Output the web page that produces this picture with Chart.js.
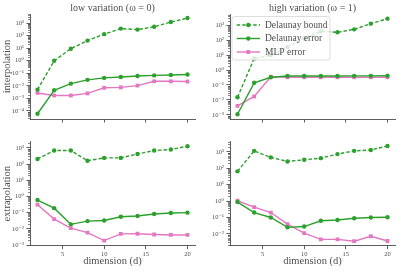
<!DOCTYPE html>
<html>
<head>
<meta charset="utf-8">
<script src="https://cdn.jsdelivr.net/npm/chart.js@4/dist/chart.umd.min.js"></script>
<style>
  html, body { margin: 0; padding: 0; background: #fff; }
  body { width: 399px; height: 271px; position: relative; overflow: hidden; }
  .panel { position: absolute; }
</style>
</head>
<body>
<div class="panel" style="left:0;top:0"><canvas id="tl" width="200" height="130"></canvas></div>
<div class="panel" style="left:200px;top:0"><canvas id="tr" width="199" height="130"></canvas></div>
<div class="panel" style="left:0;top:130px"><canvas id="bl" width="200" height="141"></canvas></div>
<div class="panel" style="left:200px;top:130px"><canvas id="br" width="199" height="141"></canvas></div>
<script>
// dimension d
const dims = [2, 4, 6, 8, 10, 12, 14, 16, 18, 20]
const xTicks = [5, 10, 15, 20]

// low variation (omega = 0), interpolation
const lowInterpBound = [0.005, 1.0, 9, 40, 130, 360, 300, 500, 1200, 2500]
const lowInterpDelaunay = [6e-5, 0.0044, 0.015, 0.03, 0.043, 0.05, 0.06, 0.068, 0.072, 0.08]
const lowInterpMlp = [0.0027, 0.0017, 0.0017, 0.0025, 0.007, 0.0076, 0.0105, 0.023, 0.023, 0.022]

// high variation (omega = 1), interpolation
const highInterpBound = [0.015, 6, 10, 36, 130, 400, 340, 540, 1300, 2800]
const highInterpDelaunay = [0.0011, 0.14, 0.33, 0.4, 0.4, 0.4, 0.4, 0.41, 0.41, 0.42]
const highInterpMlp = [0.004, 0.017, 0.36, 0.33, 0.33, 0.33, 0.33, 0.33, 0.33, 0.33]

// low variation, extrapolation
const lowExtrapBound = [205, 680, 680, 160, 240, 240, 420, 680, 790, 1260]
const lowExtrapDelaunay = [0.6, 0.19, 0.019, 0.03, 0.033, 0.056, 0.062, 0.083, 0.095, 0.1]
const lowExtrapMlp = [0.31, 0.04, 0.011, 0.0059, 0.0019, 0.0049, 0.005, 0.0045, 0.0042, 0.0042]

// high variation, extrapolation
const highExtrapBound = [65, 1150, 460, 260, 330, 415, 730, 1150, 1300, 2300]
const highExtrapDelaunay = [0.87, 0.2, 0.1, 0.025, 0.028, 0.063, 0.07, 0.09, 0.1, 0.103]
const highExtrapMlp = [1.05, 0.43, 0.2, 0.039, 0.011, 0.0046, 0.0046, 0.0036, 0.0072, 0.0037]

const seriesLabels = ['Delaunay bound', 'Delaunay error', 'MLP error']

const GREEN = '#2ca02c'
const PINK = '#e377c2'
const INK = '#333'
const TEXT = '#4d4d4d'
const FONT = "'Liberation Serif', 'DejaVu Serif', serif"

const SUP = { '-': '⁻', '0': '⁰', '1': '¹', '2': '²', '3': '³', '4': '⁴', '5': '⁵' }
const powLabel = e => '10' + String(e).split('').map(c => SUP[c]).join('')

// short minor ticks on the log axis
const minorTicks = {
  id: 'minorTicks',
  afterDraw(chart) {
    const y = chart.scales.y
    const ctx = chart.ctx
    const lo = Math.floor(Math.log10(y.min)), hi = Math.ceil(Math.log10(y.max))
    ctx.save()
    ctx.strokeStyle = INK
    ctx.lineWidth = 0.6
    for (let e = lo; e <= hi; e++) {
      for (let k = 2; k <= 9; k++) {
        const v = k * Math.pow(10, e)
        if (v < y.min || v > y.max) continue
        const py = Math.round(y.getPixelForValue(v)) + 0.5
        ctx.beginPath()
        ctx.moveTo(y.right, py)
        ctx.lineTo(y.right - 2, py)
        ctx.stroke()
      }
    }
    ctx.restore()
  }
}

// matplotlib style legend box (line + marker)
const boxLegend = {
  id: 'boxLegend',
  afterDatasetsDraw(chart, args, opts) {
    if (!opts.show) return
    const ctx = chart.ctx
    const { left, top } = chart.chartArea
    const x0 = left + 2, y0 = top + 2.5, w = 98, h = 43.5
    ctx.save()
    ctx.fillStyle = 'rgba(255,255,255,0.8)'
    ctx.strokeStyle = '#d6d6d6'
    ctx.lineWidth = 0.8
    ctx.beginPath()
    ctx.roundRect(x0, y0, w, h, 2.5)
    ctx.fill()
    ctx.stroke()
    chart.data.datasets.forEach((ds, i) => {
      const yy = y0 + 8.5 + i * 13.5
      ctx.strokeStyle = ds.borderColor
      ctx.lineWidth = ds.borderWidth
      ctx.setLineDash(ds.borderDash || [])
      ctx.beginPath()
      ctx.moveTo(x0 + 4.7, yy)
      ctx.lineTo(x0 + 28, yy)
      ctx.stroke()
      ctx.setLineDash([])
      ctx.fillStyle = ds.pointBackgroundColor
      const mx = x0 + 16.3
      ctx.beginPath()
      if (ds.pointStyle === 'rect') {
        const s = ds.pointRadius * Math.SQRT1_2
        ctx.rect(mx - s, yy - s, 2 * s, 2 * s)
      } else {
        ctx.arc(mx, yy, ds.pointRadius, 0, Math.PI * 2)
      }
      ctx.fill()
      ctx.fillStyle = TEXT
      ctx.font = `9.5px ${FONT}`
      ctx.textBaseline = 'middle'
      ctx.fillText(ds.label, x0 + 33, yy)
    })
    ctx.restore()
  }
}

function series(label, values, color, dashed, square) {
  return {
    label,
    data: dims.map((d, i) => ({ x: d, y: values[i] })),
    borderColor: color,
    backgroundColor: color,
    pointBackgroundColor: color,
    borderWidth: 1.4,
    borderDash: dashed ? [3.5, 2] : [],
    pointStyle: square ? 'rect' : 'circle',
    pointRadius: square ? 2.7 : 2.2,
    pointBorderWidth: 0,
    tension: 0
  }
}

function makePanel(id, opt) {
  const powers = []
  for (let e = Math.ceil(opt.yMin); e <= Math.floor(opt.yMax); e++) powers.push(e)
  return new Chart(document.getElementById(id), {
    type: 'line',
    data: {
      datasets: [
        series(seriesLabels[0], opt.bound, GREEN, true, false),
        series(seriesLabels[1], opt.delaunay, GREEN, false, false),
        series(seriesLabels[2], opt.mlp, PINK, false, true)
      ]
    },
    options: {
      responsive: false,
      animation: false,
      layout: { padding: { top: opt.title ? 0 : 11.7, right: opt.padRight, left: 0, bottom: 0 } },
      plugins: {
        legend: { display: false },
        tooltip: { enabled: false },
        title: {
          display: !!opt.title,
          text: opt.title,
          fullSize: false,
          color: TEXT,
          font: { family: FONT, size: 10, weight: 'normal' },
          padding: { top: 2, bottom: 0 }
        },
        boxLegend: { show: !!opt.legend }
      },
      scales: {
        x: {
          type: 'linear',
          min: 1.1,
          max: 20.9,
          afterBuildTicks: s => { s.ticks = xTicks.map(v => ({ value: v })) },
          afterFit: s => { s.height = opt.xLabel ? 25.3 : 11 },
          border: { display: true, color: INK, width: 0.8 },
          grid: { drawOnChartArea: false, drawTicks: true, tickLength: 3.5, tickColor: INK, tickWidth: 0.8 },
          ticks: {
            autoSkip: false,
            maxRotation: 0,
            padding: 1,
            color: TEXT,
            font: { family: FONT, size: 6.5 },
            callback: v => opt.xLabel ? String(v) : ''
          },
          title: {
            display: !!opt.xLabel,
            text: opt.xLabel,
            color: TEXT,
            font: { family: FONT, size: 10.5 },
            padding: { top: 0, bottom: 3 }
          }
        },
        y: {
          type: 'logarithmic',
          min: Math.pow(10, opt.yMin),
          max: Math.pow(10, opt.yMax),
          afterBuildTicks: s => { s.ticks = powers.map(e => ({ value: Math.pow(10, e) })) },
          afterFit: s => { s.width = 30 },
          border: { display: true, color: INK, width: 0.8 },
          grid: { drawOnChartArea: false, drawTicks: true, tickLength: 3.5, tickColor: INK, tickWidth: 0.8 },
          ticks: {
            autoSkip: false,
            padding: 2.5,
            color: TEXT,
            font: { family: FONT, size: 6.5 },
            callback: v => powLabel(Math.round(Math.log10(v)))
          },
          title: {
            display: !!opt.yTitle,
            text: opt.yTitle,
            color: TEXT,
            font: { family: FONT, size: 10.5 },
            padding: { top: 1, bottom: 0 }
          }
        }
      }
    },
    plugins: [minorTicks, boxLegend]
  })
}

makePanel('tl', {
  bound: lowInterpBound, delaunay: lowInterpDelaunay, mlp: lowInterpMlp,
  yMin: -4.64, yMax: 3.72, title: 'low variation (ω = 0)', yTitle: 'interpolation', padRight: 5
})
makePanel('tr', {
  bound: highInterpBound, delaunay: highInterpDelaunay, mlp: highInterpMlp,
  yMin: -3.28, yMax: 3.76, title: 'high variation (ω = 1)', padRight: 4, legend: true
})
makePanel('bl', {
  bound: lowExtrapBound, delaunay: lowExtrapDelaunay, mlp: lowExtrapMlp,
  yMin: -3.04, yMax: 3.38, yTitle: 'extrapolation', xLabel: 'dimension (d)', padRight: 5
})
makePanel('br', {
  bound: highExtrapBound, delaunay: highExtrapDelaunay, mlp: highExtrapMlp,
  yMin: -2.72, yMax: 3.62, xLabel: 'dimension (d)', padRight: 4
})
</script>
</body>
</html>
